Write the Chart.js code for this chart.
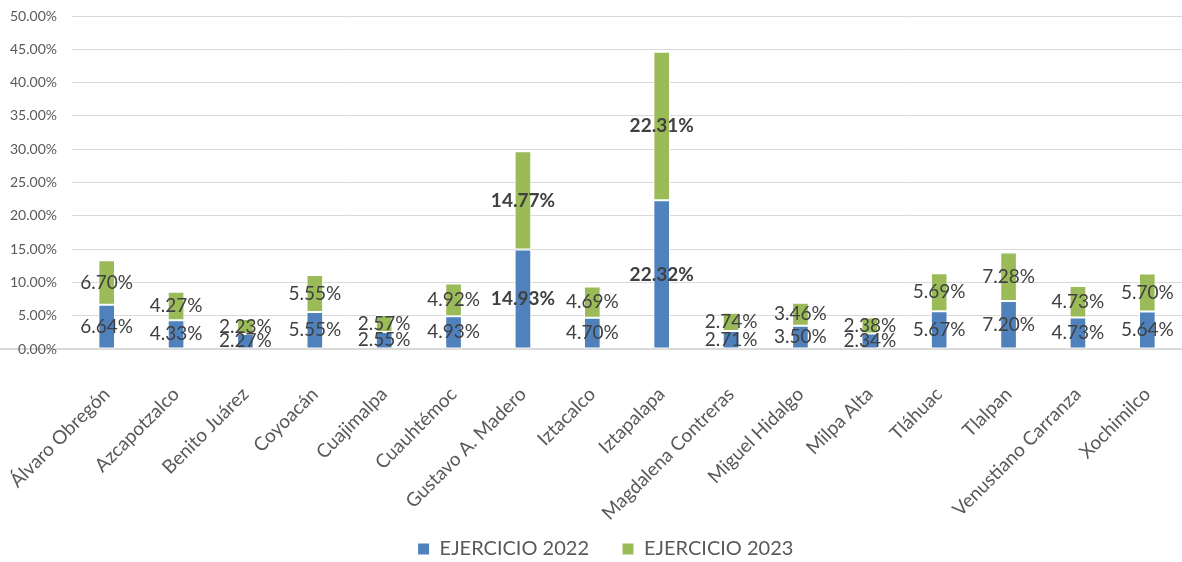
<!DOCTYPE html>
<html>
<head>
<meta charset="utf-8">
<script src="https://cdn.jsdelivr.net/npm/chart.js@4/dist/chart.umd.min.js"></script>
<style>
  html, body { margin: 0; padding: 0; background: #fff; }
  #wrap { width: 1182px; height: 562px; }
</style>
</head>
<body>
<div id="wrap"><canvas id="chart"></canvas></div>
<script>
var alcaldias = ['Álvaro Obregón', 'Azcapotzalco', 'Benito Juárez', 'Coyoacán', 'Cuajimalpa',
    'Cuauhtémoc', 'Gustavo A. Madero', 'Iztacalco', 'Iztapalapa', 'Magdalena Contreras',
    'Miguel Hidalgo', 'Milpa Alta', 'Tláhuac', 'Tlalpan', 'Venustiano Carranza', 'Xochimilco'];
var ejercicio2022 = [6.64, 4.33, 2.27, 5.55, 2.55, 4.93, 14.93, 4.70, 22.32, 2.71, 3.50, 2.34, 5.67, 7.20, 4.73, 5.64];
var ejercicio2023 = [6.70, 4.27, 2.23, 5.55, 2.57, 4.92, 14.77, 4.69, 22.31, 2.74, 3.46, 2.38, 5.69, 7.28, 4.73, 5.70];
var boldLabels = ['Gustavo A. Madero', 'Iztapalapa'];

var FONT = 'Lato, "Open Sans", sans-serif';

// labels centred in each stacked segment
var segmentLabels = {
    id: 'segmentLabels',
    afterDatasetsDraw: function (chart) {
        var ctx = chart.ctx;
        ctx.save();
        ctx.textAlign = 'center';
        ctx.textBaseline = 'middle';
        ctx.fillStyle = '#404040';
        chart.data.datasets.forEach(function (ds, i) {
            var meta = chart.getDatasetMeta(i);
            meta.data.forEach(function (bar, j) {
                var bold = boldLabels.indexOf(chart.data.labels[j]) >= 0;
                ctx.font = (bold ? 'bold ' : '') + '19px ' + FONT;
                ctx.fillText(ds.data[j].toFixed(2) + '%', bar.x, (bar.y + bar.base) / 2);
            });
        });
        ctx.restore();
    }
};

// let the long rotated category names run past the axis box instead of being clipped
var roomForLabels = {
    id: 'roomForLabels',
    afterLayout: function (chart) {
        chart.scales.x.bottom = chart.height;
        chart.scales.x.left = 0;
    }
};

new Chart(document.getElementById('chart'), {
    type: 'bar',
    data: {
        labels: alcaldias,
        datasets: [
            {
                label: 'EJERCICIO 2022',
                data: ejercicio2022,
                backgroundColor: '#4f81bd',
                borderColor: '#ffffff',
                borderWidth: 1,
                borderSkipped: false
            },
            {
                label: 'EJERCICIO 2023',
                data: ejercicio2023,
                backgroundColor: '#9bbb59',
                borderColor: '#ffffff',
                borderWidth: 1,
                borderSkipped: false
            }
        ]
    },
    options: {
        responsive: true,
        maintainAspectRatio: false,
        animation: false,
        categoryPercentage: 1,
        barPercentage: 0.24,
        layout: { padding: { top: 0, right: -23, left: 6, bottom: -7 } },
        plugins: {
            tooltip: { enabled: false },
            legend: {
                position: 'bottom',
                labels: {
                    boxWidth: 12,
                    boxHeight: 12,
                    padding: 33,
                    color: '#595959',
                    font: { family: FONT, size: 20 }
                }
            }
        },
        scales: {
            x: {
                stacked: true,
                grid: { display: false },
                border: { color: '#d9d9d9', width: 2 },
                afterFit: function (scale) {
                    scale.height = 157;
                    scale.paddingLeft = 0;
                    scale.paddingRight = 0;
                },
                ticks: {
                    maxRotation: 45,
                    minRotation: 45,
                    autoSkip: false,
                    padding: 26,
                    color: '#595959',
                    font: { family: FONT, size: 19 }
                }
            },
            y: {
                stacked: true,
                min: 0,
                max: 50,
                grid: { color: '#d9d9d9', drawTicks: false },
                border: { display: false },
                afterFit: function (scale) {
                    scale.width = 66;
                    scale.paddingTop = 16;
                    scale.paddingBottom = 0;
                },
                ticks: {
                    stepSize: 5,
                    padding: 15,
                    color: '#595959',
                    font: { family: FONT, size: 14 },
                    callback: function (v) { return v.toFixed(2) + '%'; }
                }
            }
        }
    },
    plugins: [segmentLabels, roomForLabels]
});
</script>
</body>
</html>
